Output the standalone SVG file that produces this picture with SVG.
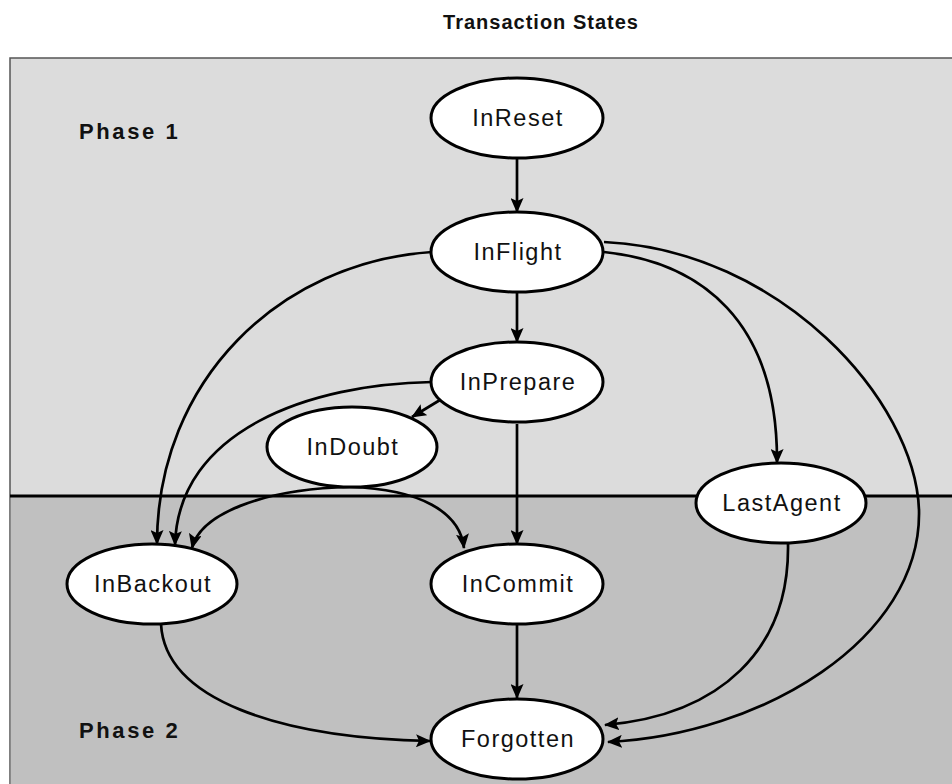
<svg xmlns="http://www.w3.org/2000/svg" width="952" height="784" viewBox="0 0 952 784">
<style>
.node ellipse{fill:#fff;stroke:#000;stroke-width:3}
.node text{font-family:"Liberation Sans",Arial,sans-serif;font-size:23.5px;letter-spacing:1.5px;text-anchor:middle;fill:#111}
.lbl{font-family:"Liberation Sans",Arial,sans-serif;font-weight:bold;fill:#111}
#edges path{fill:none;stroke:#000;stroke-width:2.7;marker-end:url(#arr)}
</style>
<defs>
<marker id="arr" markerUnits="userSpaceOnUse" markerWidth="15" markerHeight="13" refX="14" refY="6.5" orient="auto">
<path d="M0,0 L15,6.5 L0,13 L3,6.5 Z" fill="#000"/>
</marker>
</defs>
<rect x="0" y="0" width="952" height="784" fill="#fff"/>
<text class="lbl" x="541" y="29" font-size="20" letter-spacing="1" text-anchor="middle">Transaction States</text>
<g id="phases">
<rect x="10" y="58" width="950" height="740" fill="#dcdcdc" stroke="#555" stroke-width="1.5"/>
<rect x="10.75" y="496" width="950" height="300" fill="#c0c0c0"/>
<line x1="10" y1="496" x2="952" y2="496" stroke="#000" stroke-width="3"/>
<text class="lbl" x="79" y="139" font-size="22" letter-spacing="2.6">Phase 1</text>
<text class="lbl" x="79" y="738" font-size="22" letter-spacing="2.6">Phase 2</text>
</g>
<g id="edges">
<path d="M517,159 L517,212"/>
<path d="M517,293 L517,342"/>
<path d="M517,424 L517,544"/>
<path d="M517,625 L517,698"/>
<path d="M432,252 C280,262 157,380 157,544"/>
<path d="M432,382 C310,384 178,430 175,545"/>
<path d="M440,400 L412,417"/>
<path d="M350,487 C260,489 200,515 192,548"/>
<path d="M350,487 C420,489 460,512 464,548"/>
<path d="M604,252 C700,262 778,320 777,463"/>
<path d="M604,242 C780,250 915,400 919,510 C922,640 760,735 608,742"/>
<path d="M788,543 C790,650 720,715 605,725"/>
<path d="M161,624 C165,700 280,738 430,741"/>
</g>
<g id="InReset" class="node"><ellipse cx="517" cy="118" rx="86" ry="40"/><text x="518" y="126">InReset</text></g>
<g id="InFlight" class="node"><ellipse cx="517" cy="252" rx="86" ry="40"/><text x="518" y="260">InFlight</text></g>
<g id="InPrepare" class="node"><ellipse cx="517" cy="382" rx="86" ry="40"/><text x="518" y="390">InPrepare</text></g>
<g id="InDoubt" class="node"><ellipse cx="352" cy="447" rx="85" ry="40"/><text x="353" y="455">InDoubt</text></g>
<g id="LastAgent" class="node"><ellipse cx="781" cy="503" rx="85" ry="40"/><text x="782" y="511">LastAgent</text></g>
<g id="InBackout" class="node"><ellipse cx="152" cy="584" rx="85" ry="40"/><text x="153" y="592">InBackout</text></g>
<g id="InCommit" class="node"><ellipse cx="517" cy="584" rx="86" ry="40"/><text x="518" y="592">InCommit</text></g>
<g id="Forgotten" class="node"><ellipse cx="517" cy="739" rx="86" ry="40"/><text x="518" y="747">Forgotten</text></g>
</svg>
